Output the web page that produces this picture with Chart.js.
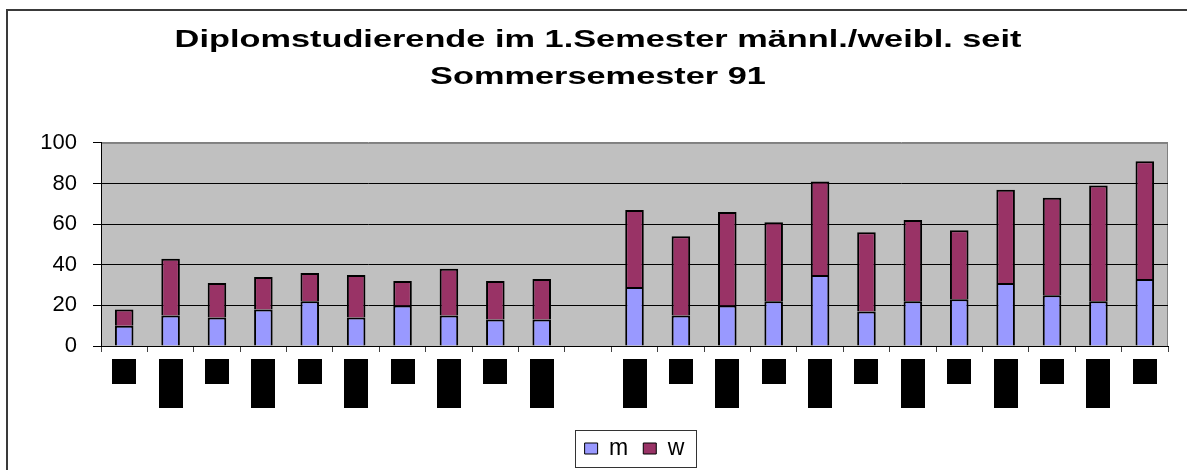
<!DOCTYPE html>
<html>
<head>
<meta charset="utf-8">
<script src="https://cdn.jsdelivr.net/npm/chart.js@4.4.1/dist/chart.umd.min.js"></script>
<style>
  body { margin: 0; background: #fff; }
  #frame { position: absolute; left: 6px; top: 9px; width: 1179px; height: 459px;
           border-top: 2px solid #3a3a3a; border-left: 2px solid #3a3a3a; }
  #frame canvas { display: block; }
</style>
</head>
<body>
<div id="frame"><canvas id="chart" width="1179" height="459"></canvas></div>
<script>
var titleLines = ['Diplomstudierende im 1.Semester männl./weibl. seit', 'Sommersemester 91'];
var semesters = ['SS91', 'WS91/92', 'SS92', 'WS92/93', 'SS93', 'WS93/94', 'SS94', 'WS94/95',
                 'SS95', 'WS95/96', '', 'WS96/97', 'SS97', 'WS97/98', 'SS98', 'WS98/99',
                 'SS99', 'WS99/00', 'SS00', 'WS00/01', 'SS01', 'WS01/02', 'SS02'];
var mValues = [10, 15, 14, 18, 22, 14, 20, 15, 13, 13, null, 29, 15, 20, 22, 35, 17, 22, 23, 31, 25, 22, 33];
var wValues = [8, 28, 17, 16, 14, 21, 12, 23, 19, 20, null, 38, 39, 46, 39, 46, 39, 40, 34, 46, 48, 57, 58];
var seriesNames = ['m', 'w'];
var seriesColors = ['#9999ff', '#993366'];

var fontFamily = '"Liberation Sans", Arial, Helvetica, sans-serif';
var labelFontSize = 10;
var titleStretch = 1.43;
var titleShift = 10;

// grey plot area + the black blocks behind the semester labels
var plotBackground = {
  id: 'plotBackground',
  beforeDraw: function(chart) {
    var ctx = chart.ctx;
    var a = chart.chartArea;
    var xs = chart.scales.x;
    ctx.save();
    ctx.fillStyle = '#c0c0c0';
    ctx.fillRect(a.left, a.top, a.right - a.left, a.bottom - a.top);
    ctx.strokeStyle = '#808080';
    ctx.lineWidth = 1;
    ctx.strokeRect(a.left + 0.5, a.top + 0.5, a.right - a.left - 1, a.bottom - a.top);
    ctx.fillStyle = '#000';
    semesters.forEach(function(s, i) {
      if (!s) return;
      var px = xs.getPixelForTick(i);
      var h = s.indexOf('/') > 0 ? 49 : 25;   // winter terms wrap to two lines
      ctx.fillRect(Math.round(px - 12), xs.top + 13, 24, h);
    });
    ctx.restore();

    // title in the original is drawn wide, stretch it round its centre
    var t = chart.titleBlock;
    if (t && !t._wide) {
      var draw = t.draw;
      t.draw = function() {
        var c = chart.ctx;
        var cx = (t.left + t.right) / 2;
        c.save();
        c.translate(cx + titleShift, 0);
        c.scale(titleStretch, 1);
        c.translate(-cx, 0);
        draw.apply(t, arguments);
        c.restore();
      };
      t._wide = true;
    }
  }
};

// frame round the legend
var legendFrame = {
  id: 'legendFrame',
  afterDraw: function(chart) {
    var boxes = chart.legend.legendHitBoxes;
    if (!boxes || !boxes.length) return;
    var left = boxes[0].left, right = 0;
    boxes.forEach(function(b) {
      left = Math.min(left, b.left);
      right = Math.max(right, b.left + b.width);
    });
    var mid = boxes[0].top + boxes[0].height / 2;
    var ctx = chart.ctx;
    ctx.save();
    ctx.strokeStyle = '#333';
    ctx.lineWidth = 1;
    ctx.strokeRect(Math.round(left - 10) + 0.5, Math.round(mid - 18.5) + 0.5,
                   Math.round(right - left + 21), 37);
    ctx.restore();
  }
};

function makeDataset(i, values) {
  return {
    label: seriesNames[i],
    data: values,
    backgroundColor: seriesColors[i],
    borderColor: '#000',
    borderWidth: 2,
    barPercentage: 0.4,
    categoryPercentage: 1
  };
}

var ctx = document.getElementById('chart').getContext('2d');
var chart = new Chart(ctx, {
  type: 'bar',
  data: {
    labels: semesters,
    datasets: [makeDataset(0, mValues), makeDataset(1, wValues)]
  },
  options: {
    responsive: false,
    animation: false,
    devicePixelRatio: 1,
    layout: { padding: { left: 0, right: 19, top: 0, bottom: 0 } },
    plugins: {
      tooltip: { enabled: false },
      title: {
        display: true,
        text: titleLines,
        color: '#000',
        font: { family: fontFamily, size: 24, weight: 'bold', lineHeight: 1.53 },
        padding: { top: 11, bottom: 47.5 }
      },
      legend: {
        position: 'bottom',
        fullSize: false,
        labels: {
          color: '#000',
          font: { family: fontFamily, size: 23 },
          boxWidth: 13,
          boxHeight: 11,
          padding: 15,
          generateLabels: function(chart) {
            var items = Chart.defaults.plugins.legend.labels.generateLabels(chart);
            items.forEach(function(it) { it.lineWidth = 1; it.strokeStyle = '#000'; });
            return items;
          }
        }
      }
    },
    scales: {
      x: {
        stacked: true,
        grid: { drawOnChartArea: false, tickLength: 6, color: '#404040', offset: true },
        border: { color: '#000', width: 1 },
        ticks: {
          color: '#000',
          font: { family: fontFamily, size: labelFontSize },
          minRotation: 90,
          maxRotation: 90,
          autoSkip: false,
          padding: 8
        },
        afterFit: function(s) { s.height = 76; }
      },
      y: {
        stacked: true,
        min: 0,
        max: 100,
        ticks: { stepSize: 20, color: '#000', font: { family: fontFamily, size: 22 }, padding: 16 },
        grid: {
          color: function(c) { return c.tick && c.tick.value === 100 ? '#808080' : '#000'; },
          tickColor: '#000',
          tickLength: 8
        },
        border: { color: '#000', width: 1 },
        afterFit: function(s) { s.width = 93; }
      }
    }
  },
  plugins: [plotBackground, legendFrame]
});
</script>
</body>
</html>
